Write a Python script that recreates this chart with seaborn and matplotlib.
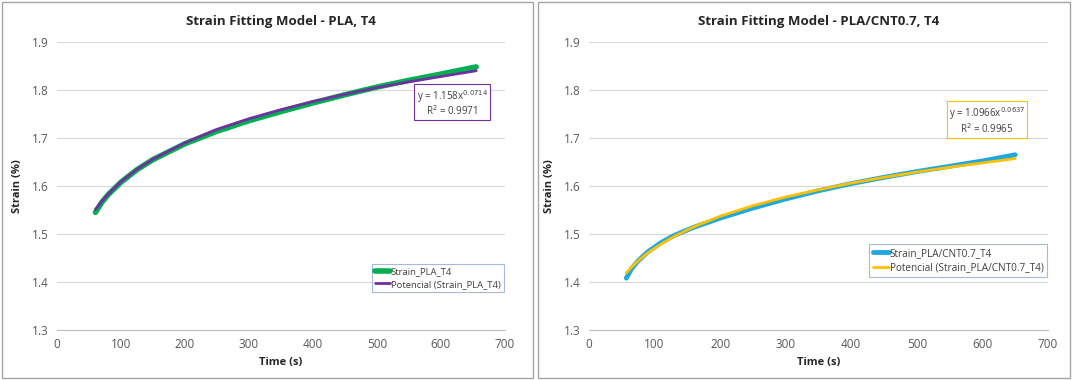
import matplotlib
matplotlib.use('Agg')
import matplotlib.pyplot as plt
import seaborn as sns
import pandas as pd
from matplotlib.patches import Rectangle
from matplotlib.lines import Line2D

# Values
time_pla = [60, 70, 80, 100, 125, 150, 200, 250, 300, 350, 400, 450, 500, 550, 600, 655]
strain_pla = [1.545, 1.566, 1.582, 1.608, 1.634, 1.655, 1.688, 1.714, 1.736, 1.755,
              1.773, 1.790, 1.806, 1.820, 1.833, 1.848]
fit_pla = [1.551, 1.568, 1.583, 1.609, 1.635, 1.656, 1.690, 1.718, 1.740, 1.759,
           1.776, 1.791, 1.805, 1.817, 1.828, 1.840]

time_cnt = [57, 65, 75, 90, 110, 130, 160, 200, 250, 300, 350, 400, 450, 500, 550, 600, 650]
strain_cnt = [1.408, 1.428, 1.444, 1.463, 1.482, 1.497, 1.514, 1.533, 1.554, 1.573,
              1.590, 1.605, 1.618, 1.630, 1.641, 1.652, 1.665]
fit_cnt = [1.419, 1.431, 1.444, 1.461, 1.479, 1.495, 1.515, 1.537, 1.559, 1.577,
           1.592, 1.606, 1.618, 1.629, 1.639, 1.648, 1.657]

titles = ['Strain Fitting Model - PLA, T4', 'Strain Fitting Model - PLA/CNT0.7, T4']
data_labels = ['Strain_PLA_T4', 'Strain_PLA/CNT0.7_T4']
fit_labels = ['Potencial (Strain_PLA_T4)', 'Potencial (Strain_PLA/CNT0.7_T4)']
equations = ['y = 1.158x$^{0.0714}$\nR$^2$ = 0.9971', 'y = 1.0966x$^{0.0637}$\nR$^2$ = 0.9965']

sns.set_style('white')
plt.rcParams['font.family'] = ['Open Sans', 'DejaVu Sans']

excel_green = '#00B050'
excel_purple = '#7030A0'
excel_blue = '#1FA8E0'
excel_gold = '#FFC000'

fig = plt.figure(figsize=(10.72, 3.8), dpi=100)

# Panel frames like the two Excel chart boxes
fig.patches.append(Rectangle((0.002, 0.005), 0.495, 0.99, transform=fig.transFigure,
                             fill=False, edgecolor='#A6A6A6', lw=1))
fig.patches.append(Rectangle((0.502, 0.005), 0.496, 0.99, transform=fig.transFigure,
                             fill=False, edgecolor='#A6A6A6', lw=1))

ax1 = fig.add_axes([0.0532, 0.1316, 0.4178, 0.758])
ax2 = fig.add_axes([0.5494, 0.1316, 0.4282, 0.758])

panels = [
    (ax1, time_pla, strain_pla, fit_pla, excel_green, excel_purple, 4, 2,
     (0.882, 0.788), (0.998, 0.132), 6.8),
    (ax2, time_cnt, strain_cnt, fit_cnt, excel_blue, excel_gold, 3.5, 2,
     (0.867, 0.726), (0.998, 0.184), 7.2),
]

for i, (ax, t, s, f, c_data, c_fit, lw_data, lw_fit, eq_pos, leg_pos, leg_fs) in enumerate(panels):
    df = pd.DataFrame({'t': t, 's': s, 'f': f})
    sns.lineplot(data=df, x='t', y='s', ax=ax, color=c_data, lw=lw_data,
                 solid_capstyle='round')
    sns.lineplot(data=df, x='t', y='f', ax=ax, color=c_fit, lw=lw_fit)

    ax.set_xlim(0, 700)
    ax.set_ylim(1.3, 1.9)
    ax.set_xticks(range(0, 701, 100))
    ax.set_yticks([1.3, 1.4, 1.5, 1.6, 1.7, 1.8, 1.9])
    ax.set_yticklabels(['1.3', '1.4', '1.5', '1.6', '1.7', '1.8', '1.9'])
    ax.grid(axis='y', color='#D9D9D9', lw=0.8)
    ax.set_axisbelow(True)
    for side in ['top', 'right', 'left']:
        ax.spines[side].set_visible(False)
    ax.spines['bottom'].set_color('#BFBFBF')
    ax.tick_params(axis='both', length=0, labelsize=8.5, colors='#595959', pad=6)

    ax.set_title(titles[i], fontsize=9.5, fontweight='bold', color='#262626', pad=12)
    ax.set_xlabel('Time (s)', fontsize=8, fontweight='bold', color='#262626', labelpad=4)
    ax.set_ylabel('Strain (%)', fontsize=8, fontweight='bold', color='#262626', labelpad=10)

    ax.text(eq_pos[0], eq_pos[1], equations[i], transform=ax.transAxes, fontsize=7,
            color='#404040', ha='center', va='center', multialignment='center',
            linespacing=1.0,
            bbox=dict(boxstyle='square,pad=0.22', fc='white', ec=c_fit, lw=0.8))

    handles = [Line2D([], [], color=c_data, lw=lw_data), Line2D([], [], color=c_fit, lw=lw_fit)]
    leg = ax.legend(handles, [data_labels[i], fit_labels[i]], loc='lower right',
                    bbox_to_anchor=leg_pos, fontsize=leg_fs, frameon=True, fancybox=False,
                    handlelength=1.6, handletextpad=0.1, borderpad=0.35, labelspacing=0.35,
                    borderaxespad=0)
    leg.get_frame().set_edgecolor('#8EA9DB')
    leg.get_frame().set_linewidth(0.8)
    for txt in leg.get_texts():
        txt.set_color('#404040')

ax1.yaxis.set_label_coords(-0.075, 0.5)
ax2.yaxis.set_label_coords(-0.073, 0.5)

fig.savefig('out.png', dpi=100)
